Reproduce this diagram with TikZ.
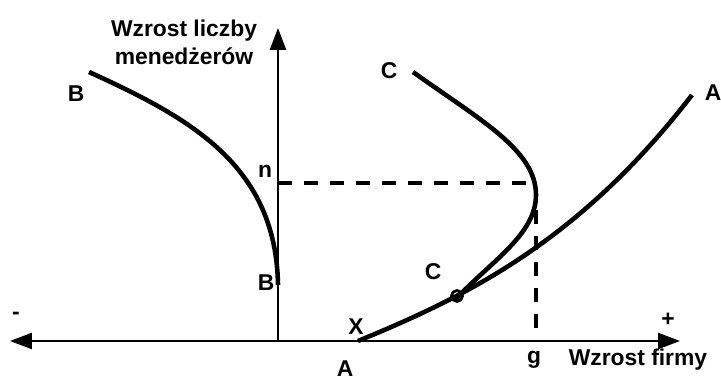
\documentclass[tikz,border=0pt]{standalone}
\usepackage{fontspec}
\setmainfont{Liberation Sans}
\usetikzlibrary{arrows.meta}

\begin{document}
\begin{tikzpicture}[x=0.02cm, y=-0.02cm,
                    >={Triangle[length=0.44cm, width=0.32cm]},
                    lbl/.style={font=\fontsize{13}{16}\selectfont\bfseries, inner sep=0pt, align=center},
                    axis/.style={line width=1.4pt},
                    curve/.style={line width=2.6pt},
                    guide/.style={line width=2pt, dash pattern=on 0.28cm off 0.24cm}
                ]
                \useasboundingbox (0,0) rectangle (721,381);

                % Axes
                \coordinate (origin) at (278,341);
                \coordinate (xleft) at (10,341);
                \coordinate (xright) at (680,341);
                \coordinate (ytop) at (278,28);
                \draw[axis, <->] (xleft) -- (xright);
                \draw[axis, ->] (origin) -- (ytop);

                % Axis labels
                \node[lbl] (ylabel) at (184,42) {Wzrost liczby\\menedżerów};
                \node[lbl] (xlabel) at (638,360) {Wzrost firmy};
                \node[lbl] (minus) at (16,316) {-};
                \node[lbl] (plus) at (668,320) {+};
                \node[lbl] (g) at (534,360) {g};
                \node[lbl] (n) at (265,171) {n};

                % Curve B
                \draw[curve] (89,72) .. controls (190,118) and (276,165) .. (278,285);
                \node[lbl] (B_top) at (76,94) {B};
                \node[lbl] (B_bot) at (266,283) {B};

                % Curve C
                \draw[curve] (413,72) .. controls (480,120) and (536,150) .. (536,195)
                             .. controls (536,235) and (490,262) .. (455,300);
                \node[lbl] (C_top) at (389,71) {C};
                \node[lbl] (C_bot) at (433,272) {C};

                % Curve A
                \draw[curve] (358,341) .. controls (470,295) and (580,240) .. (692,95);
                \node[lbl] (A_top) at (713,93) {A};
                \node[lbl] (A_bot) at (345,369) {A};
                \node[lbl] (X) at (356,327) {X};
                \node[draw, circle, line width=1.6pt, minimum size=0.22cm, inner sep=0pt] (touch) at (457,296) {};

                % Guides
                \draw[guide] (278,183) -- (530,183);
                \draw[guide] (536,210) -- (536,330);
            \end{tikzpicture}
\end{document}
